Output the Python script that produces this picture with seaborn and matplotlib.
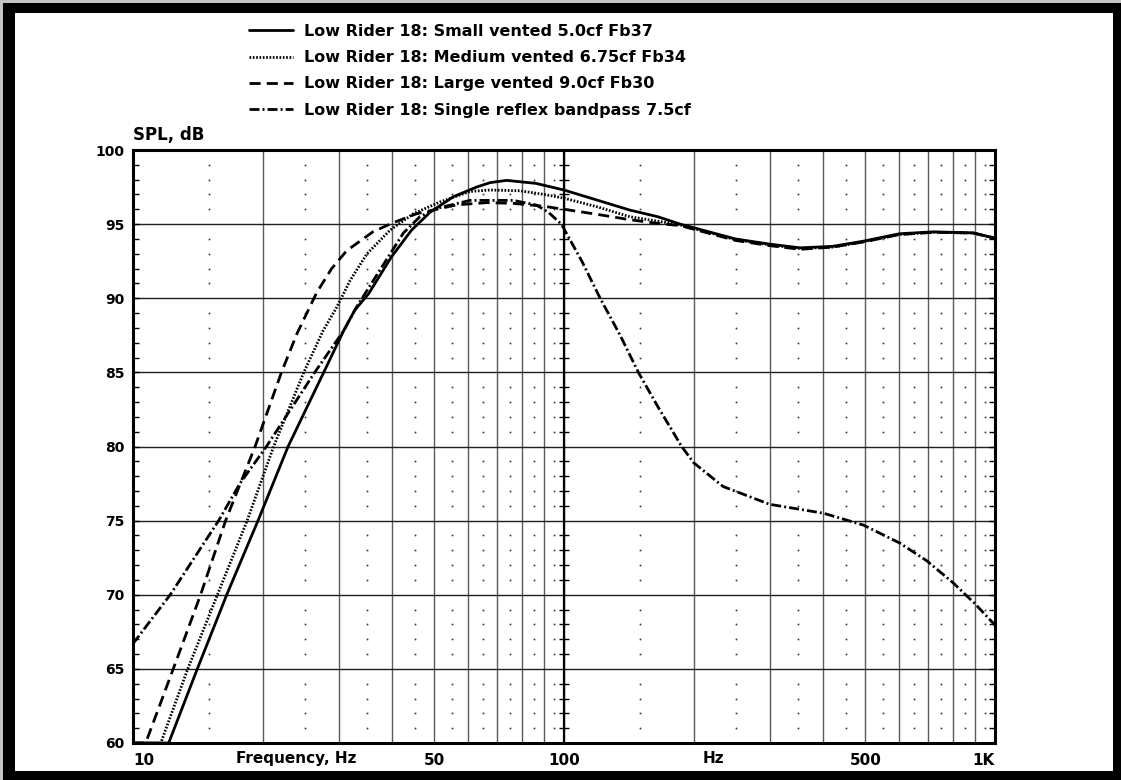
import numpy as np
import pandas as pd
import matplotlib
matplotlib.use("Agg")
import matplotlib.pyplot as plt
from matplotlib.patches import Rectangle
from matplotlib.ticker import NullFormatter
import seaborn as sns

sns.set_theme(style="white")
plt.rcParams["font.family"] = ["DejaVu Sans"]
plt.rcParams["font.weight"] = "bold"
plt.rcParams["text.color"] = "black"
plt.rcParams["xtick.color"] = "black"
plt.rcParams["ytick.color"] = "black"
plt.rcParams["xtick.labelcolor"] = "black"
plt.rcParams["ytick.labelcolor"] = "black"

# %% datos (frecuencia en Hz, SPL en dB)
small_f = [10, 12.1, 14.1, 16.5, 19.5, 22.9, 27.7, 30.8, 32.7, 35.2, 39.8, 44.3, 48.9, 55.4, 62.7,
           67.4, 73.6, 86, 100, 120, 142, 165, 186, 250, 300, 353, 420, 495, 600, 720, 890, 1000]
small_db = [60, 60, 65, 70, 75, 80, 85, 87.8, 89.2, 90.3, 92.8, 94.6, 95.8, 96.85, 97.5,
            97.8, 97.95, 97.75, 97.3, 96.6, 95.95, 95.5, 95.0, 94.0, 93.65, 93.4, 93.5, 93.85, 94.35, 94.48, 94.41, 94.05]

med_f = [10, 11.6, 13.4, 15.7, 18.4, 21.2, 24.9, 27.6, 29.7, 31.9, 34.9, 39.5, 44.7, 51.6, 60.5,
         67.4, 79, 90, 100, 120, 142, 165, 186, 250, 300, 353, 420, 495, 600, 720, 890, 1000]
med_db = [60, 60, 65, 70, 75, 80, 85, 87.8, 89.4, 91.2, 93.0, 94.6, 95.7, 96.5, 97.2,
          97.3, 97.25, 97.0, 96.75, 96.15, 95.5, 95.2, 94.95, 93.95, 93.6, 93.35, 93.45, 93.8, 94.3, 94.45, 94.4, 94.05]

large_f = [10, 10.7, 12.4, 14.35, 16.4, 19.2, 22.1, 24.0, 26.7, 28.9, 31.3, 36.1, 40.2, 45.5, 56.4,
           66.2, 76.3, 90, 100, 120, 142, 165, 186, 250, 300, 353, 420, 495, 600, 720, 890, 1000]
large_db = [60, 60, 65, 70, 75, 80, 85, 87.6, 90.4, 92.0, 93.2, 94.5, 95.1, 95.7, 96.3,
            96.45, 96.4, 96.2, 96.0, 95.65, 95.3, 95.05, 94.9, 93.9, 93.55, 93.3, 93.45, 93.8, 94.3, 94.45, 94.4, 94.05]

bp_f = [10, 12.2, 15.8, 17.7, 20.4, 26.4, 30.8, 33.0, 37.4, 42.4, 46.3, 50.7, 60.5, 76.3, 86.4, 92,
        98.6, 110, 121.3, 135, 148.8, 165, 187.5, 200, 234, 300, 400, 495, 600, 694, 800, 898, 1000]
bp_db = [66.7, 70, 75, 77.5, 80, 85, 87.8, 89.4, 91.9, 94.4, 95.5, 96.06, 96.6, 96.6, 96.28, 95.8,
         95.0, 92.5, 90.0, 87.5, 85.0, 82.7, 80.0, 78.9, 77.3, 76.1, 75.5, 74.7, 73.5, 72.3, 70.8, 69.4, 67.95]

series = [
    ("Low Rider 18: Small vented 5.0cf Fb37", small_f, small_db, "-"),
    ("Low Rider 18: Medium vented 6.75cf Fb34", med_f, med_db, (0, (0.6, 0.6))),
    ("Low Rider 18: Large vented 9.0cf Fb30", large_f, large_db, (0, (4, 2.2))),
    ("Low Rider 18: Single reflex bandpass 7.5cf", bp_f, bp_db, (0, (3.6, 1.1, 0.7, 1.1))),
]

x_major = [10, 50, 100, 500, 1000]
x_major_labels = ["10", "50", "100", "500", "1K"]
x_minor = [20, 30, 40, 60, 70, 80, 90, 200, 300, 400, 600, 700, 800, 900]

# %% figura con marco negro
W, H = 1121, 780
fig = plt.figure(figsize=(W / 100, H / 100), dpi=100, facecolor="#c4c4c4")
fig.patches.append(Rectangle((3 / W, 0), 1, 1 - 3 / H, transform=fig.transFigure,
                             facecolor="black", edgecolor="none", zorder=-3))
fig.patches.append(Rectangle((15 / W, 1 - 771 / H), (1113 - 15) / W, (771 - 13) / H,
                             transform=fig.transFigure, facecolor="white", edgecolor="none", zorder=-2))

ax = fig.add_axes([133 / W, 1 - 743 / H, (995 - 133) / W, (743 - 150) / H])
ax.set_xscale("log")

for name, f, db, ls in series:
    df = pd.DataFrame({"f": f, "db": db})
    sns.lineplot(data=df, x="f", y="db", ax=ax, color="black", lw=2.0, linestyle=ls,
                 label=name, sort=False, estimator=None, zorder=5)

ax.set_xlim(10, 1000)
ax.set_ylim(60, 100)

# ejes y rejilla
ax.set_xticks(x_major)
ax.set_xticklabels(x_major_labels)
ax.set_xticks(x_minor, minor=True)
ax.xaxis.set_minor_formatter(NullFormatter())
ax.tick_params(axis="x", which="both", length=0, pad=7, labelsize=11, labelcolor="black")
xl = ax.get_xticklabels()
xl[0].set_ha("left")
xl[-1].set_ha("right")
ax.grid(axis="x", which="both", color="#5a5a5a", lw=1.0, zorder=0)
ax.axvline(100, color="black", lw=1.6, zorder=1)

y_minor = [v for v in range(61, 100) if v % 5]
ax.set_yticks(range(60, 101, 5))
ax.set_yticks(y_minor, minor=True)
ax.tick_params(axis="y", which="both", direction="in", left=True, right=True,
               length=4, width=1, color="black", labelsize=10, pad=6, labelcolor="black")
ax.grid(axis="y", which="major", color="#1e1e1e", lw=1.0, zorder=0)
ax.set_xlabel("")
ax.set_ylabel("")

# puntos de la rejilla fina
mid_x = [d * (k + 0.5) for d in (10, 100) for k in range(1, 10)]
gx, gy = np.meshgrid(mid_x, y_minor)
ax.plot(gx.ravel(), gy.ravel(), ls="none", marker="s", ms=1.2, mew=0, color="#333333", zorder=1)
ax.plot([100] * len(y_minor), y_minor, ls="none", marker="_", ms=7, mew=1.0, color="black", zorder=2)

for s in ax.spines.values():
    s.set_color("black")
    s.set_linewidth(2.2)

ax.text(0, 1.01, "SPL, dB", transform=ax.transAxes, ha="left", va="bottom",
        fontsize=12, fontweight="bold", color="black")
ax.text(23.9, -0.026, "Frequency, Hz", transform=ax.get_xaxis_transform(),
        ha="center", va="center", fontsize=11, fontweight="bold", color="black")
ax.text(221.7, -0.026, "Hz", transform=ax.get_xaxis_transform(),
        ha="center", va="center", fontsize=11, fontweight="bold", color="black")

handles, labels = ax.get_legend_handles_labels()
if ax.get_legend() is not None:
    ax.get_legend().remove()
fig.legend(handles, labels, loc="upper left", bbox_to_anchor=(249 / W, 1 - 24 / H),
           frameon=False, handlelength=2.75, handletextpad=0.7, labelspacing=0.7,
           borderpad=0, borderaxespad=0, labelcolor="black",
           prop={"weight": "bold", "size": 11.5})

fig.savefig("out.png", dpi=100, facecolor=fig.get_facecolor())
